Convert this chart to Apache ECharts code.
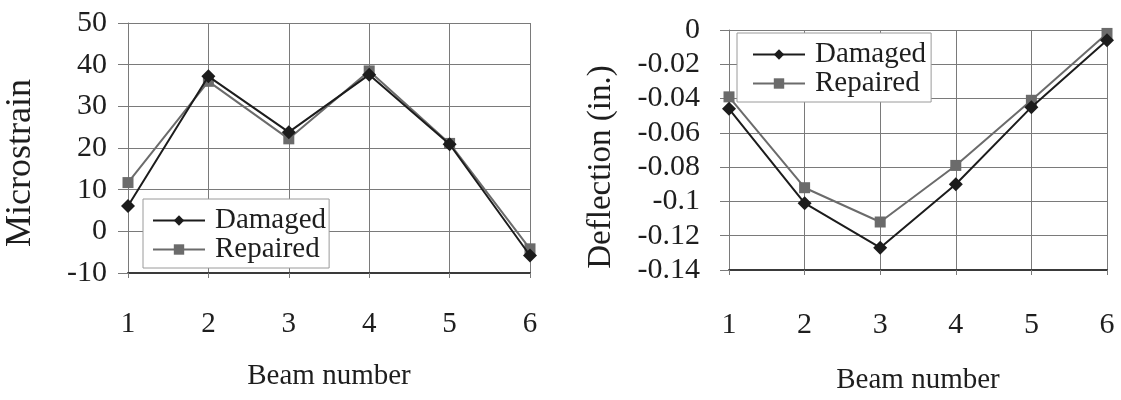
<!DOCTYPE html>
<html>
<head>
<meta charset="utf-8">
<script src="https://cdn.jsdelivr.net/npm/echarts@6/dist/echarts.min.js"></script>
<style>
  html, body { margin: 0; padding: 0; background: #ffffff; }
  #chart { width: 1121px; height: 400px; }
</style>
</head>
<body>
<div id="chart"></div>
<script>
// Beam numbers along the girder
const beams = ['1', '2', '3', '4', '5', '6'];

// Strain readings (microstrain)
const strainDamaged  = [6.1, 37.2, 23.8, 37.6, 20.9, -5.8];
const strainRepaired = [11.7, 36.0, 22.2, 38.5, 21.1, -4.2];

// Deflection readings (in.)
const deflDamaged  = [-0.046, -0.101, -0.127, -0.090, -0.045, -0.006];
const deflRepaired = [-0.039, -0.092, -0.112, -0.079, -0.041, -0.002];

const FONT = "'Liberation Serif', 'Times New Roman', serif";
const INK = '#1e1e1e';
const GRID_LINE = '#7a7a7a';
const DAMAGED = '#1c1c1c';
const REPAIRED = '#6b6b6b';

// plain hyphen for negative tick values
function tickText(v) {
  return String(+(+v).toFixed(4)).replace('\u2212', '-');
}

function xAxisFor(gridIndex, labelSize, labelMargin, nameGap) {
  return {
    type: 'category',
    gridIndex: gridIndex,
    data: beams,
    boundaryGap: false,
    name: 'Beam number',
    nameLocation: 'middle',
    nameGap: nameGap,
    nameTextStyle: { fontFamily: FONT, fontSize: 29, color: INK },
    axisLine: { show: true, onZero: false, lineStyle: { color: '#3a3a3a', width: 2 } },
    axisTick: { show: true, alignWithLabel: true, length: 5, lineStyle: { color: GRID_LINE } },
    axisLabel: { fontFamily: FONT, fontSize: labelSize, color: INK, margin: labelMargin },
    splitLine: { show: true, lineStyle: { color: GRID_LINE, width: 1 } }
  };
}

function series(name, data, color, symbol, size, xi, yi, z) {
  return {
    name: name,
    type: 'line',
    xAxisIndex: xi,
    yAxisIndex: yi,
    data: data,
    symbol: symbol,
    symbolSize: size,
    showSymbol: true,
    z: z,
    lineStyle: { color: color, width: 2 },
    itemStyle: { color: color, borderWidth: 0 },
    emphasis: { disabled: true },
    animation: false
  };
}

function legendAt(left, top, pad) {
  return {
    orient: 'vertical',
    left: left,
    top: top,
    data: ['Damaged', 'Repaired'],
    itemWidth: 52,
    itemHeight: 13,
    itemGap: 0,
    padding: pad,
    backgroundColor: '#ffffff',
    borderColor: '#9a9a9a',
    borderWidth: 1,
    borderRadius: 0,
    selectedMode: false,
    textStyle: { fontFamily: FONT, fontSize: 29, color: INK, padding: [0, 0, 0, 5] }
  };
}

const chart = echarts.init(document.getElementById('chart'), null, { renderer: 'canvas' });

chart.setOption({
  backgroundColor: '#ffffff',
  animation: false,
  grid: [
    { left: 128, top: 23, width: 402, height: 250 },
    { left: 729, top: 30, width: 378, height: 248 }
  ],
  legend: [
    legendAt(143, 199, [7, 3, 4, 9]),
    legendAt(737, 33, [7, 5, 4, 15])
  ],
  xAxis: [
    xAxisFor(0, 29, 37, 89),
    xAxisFor(1, 30, 40, 96)
  ],
  yAxis: [
    {
      type: 'value',
      gridIndex: 0,
      min: -10,
      max: 50,
      interval: 10,
      name: 'Microstrain',
      nameLocation: 'middle',
      nameGap: 89,
      nameTextStyle: { fontFamily: FONT, fontSize: 36, color: INK, padding: [0, 30, 0, 0] },
      axisLine: { show: true, onZero: false, lineStyle: { color: GRID_LINE, width: 1 } },
      axisTick: { show: true, length: 10, lineStyle: { color: GRID_LINE } },
      axisLabel: { fontFamily: FONT, fontSize: 30, color: INK, margin: 21, formatter: tickText },
      splitLine: { show: true, lineStyle: { color: GRID_LINE, width: 1 } }
    },
    {
      type: 'value',
      gridIndex: 1,
      min: -0.14,
      max: 0,
      interval: 0.02,
      name: 'Deflection (in.)',
      nameLocation: 'middle',
      nameGap: 111,
      nameTextStyle: { fontFamily: FONT, fontSize: 33, color: INK, padding: [0, 34, 0, 0] },
      axisLine: { show: true, onZero: false, lineStyle: { color: GRID_LINE, width: 1 } },
      axisTick: { show: true, length: 9, lineStyle: { color: GRID_LINE } },
      axisLabel: { fontFamily: FONT, fontSize: 30, color: INK, margin: 29, formatter: tickText },
      splitLine: { show: true, lineStyle: { color: GRID_LINE, width: 1 } }
    }
  ],
  series: [
    series('Damaged', strainDamaged, DAMAGED, 'diamond', 14, 0, 0, 3),
    series('Repaired', strainRepaired, REPAIRED, 'rect', 11, 0, 0, 2),
    series('Damaged', deflDamaged, DAMAGED, 'diamond', 14, 1, 1, 3),
    series('Repaired', deflRepaired, REPAIRED, 'rect', 11, 1, 1, 2)
  ]
});
</script>
</body>
</html>
